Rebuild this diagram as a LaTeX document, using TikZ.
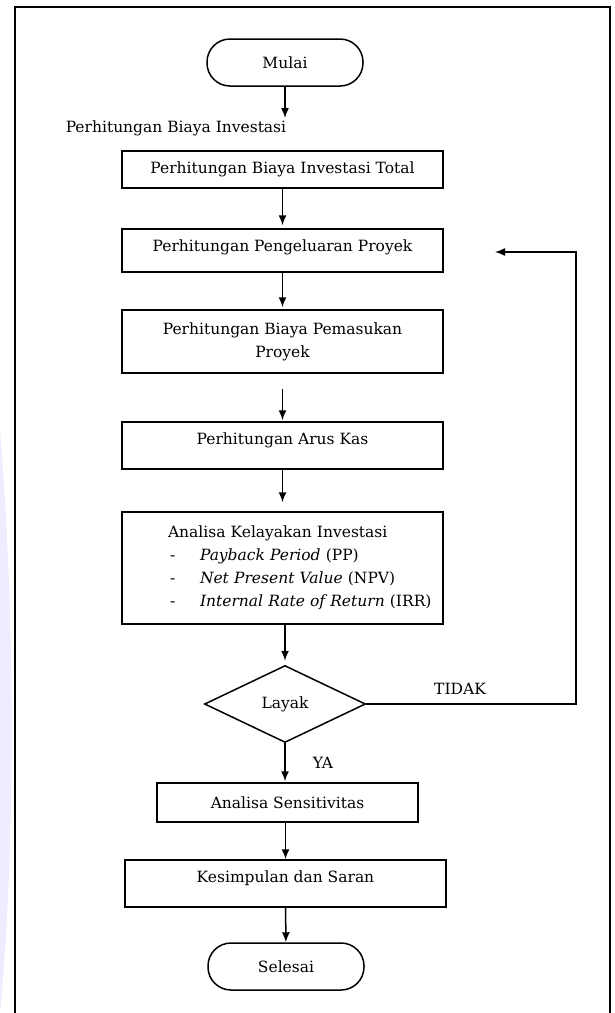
\documentclass[tikz,border=0pt]{standalone}
\usepackage{fontspec}
\setmainfont{DejaVu Serif}
\usetikzlibrary{arrows.meta,shapes.geometric}

\tikzset{
  proses/.style={draw, rectangle, minimum width=321pt, inner sep=0pt, align=center},
  terminal/.style={draw, rectangle, rounded corners=23pt, minimum width=156pt, minimum height=47pt},
  keputusan/.style={draw, diamond, minimum width=161pt, minimum height=77pt, inner sep=0pt},
}
\newcommand{\butir}[1]{\hspace*{48pt}\makebox[30pt][l]{-}#1}

\begin{document}
\begin{tikzpicture}[x=1pt, y=-1pt, line width=1.5pt,
    font=\fontsize{15.5}{23}\selectfont,
    >={Latex[length=10pt,width=8pt]}]
  \useasboundingbox (0,0) rectangle (614,1013);
  % Tanda air di kiri
  \fill[blue!7] (0,430) .. controls (16,620) and (15,860) .. (0,1013) -- cycle;
  % Bingkai luar
  \draw (15,1013) -- (15,7) -- (610,7) -- (610,1013);

  % Mulai
  \node[terminal] (mulai) at (285,62.5) {Mulai};
  \coordinate (mulaiend) at (285,118);
  \node[anchor=west, inner sep=0pt] (judul) at (65,128) {Perhitungan Biaya Investasi};

  % Proses
  \node[proses, minimum height=37pt] (total) at (282.5,169.5) {Perhitungan Biaya Investasi Total};
  \node[proses, minimum height=43pt, text depth=10pt] (keluar) at (282.5,250.5) {Perhitungan Pengeluaran Proyek};
  \node[proses, minimum height=63pt] (masuk) at (282.5,341.5) {Perhitungan Biaya Pemasukan\\Proyek};
  \node[proses, minimum height=47pt, text depth=14pt] (arus) at (282.5,445.5) {Perhitungan Arus Kas};
  \node[proses, minimum height=112pt, text width=321pt, align=left] (analisa) at (282.5,568)
    {\hspace*{46pt}Analisa Kelayakan Investasi\\
     \butir{\textit{Payback Period} (PP)}\\
     \butir{\textit{Net Present Value} (NPV)}\\
     \butir{\textit{Internal Rate of Return} (IRR)}};

  % Keputusan
  \node[keputusan] (layak) at (285,704) {Layak};
  \node (tidak) at (460,689) {TIDAK};
  \node (ya) at (323,763) {YA};

  \node[proses, minimum width=261pt, minimum height=39pt] (sensitif) at (287.5,802.5) {Analisa Sensitivitas};
  \node[proses, minimum height=47pt, text depth=14pt] (simpul) at (285.5,883.5) {Kesimpulan dan Saran};
  \node[terminal] (selesai) at (286,966.5) {Selesai};

  % Panah
  \draw[->] (mulai) -- (mulaiend);
  \draw[->, shorten >=3pt] (total) -- (keluar);
  \draw[->, shorten >=2pt] (keluar) -- (masuk);
  \draw[->, shorten <=15pt, shorten >=1pt] (masuk) -- (arus);
  \draw[->, shorten >=9pt] (arus) -- (analisa);
  \draw[->, shorten >=4pt] (analisa.south -| layak) -- (layak);
  \draw[->, shorten >=1pt] (layak) -- (layak |- sensitif.north);
  \draw[->] (sensitif.south -| simpul) -- (simpul);
  \draw[->] (simpul) -- (selesai);

  % Balik ke pengeluaran
  \coordinate (sudut) at (576,252);
  \coordinate (balik) at (495,252);
  \draw[->] (layak.east) -| (sudut) -- (balik);
\end{tikzpicture}
\end{document}
